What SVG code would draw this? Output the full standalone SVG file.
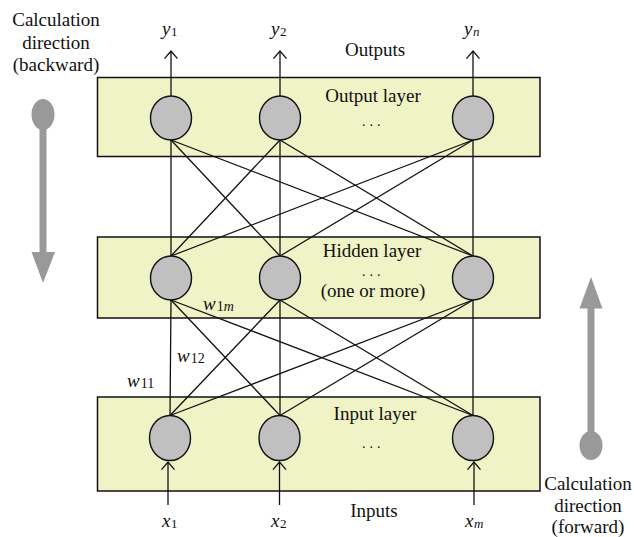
<svg xmlns="http://www.w3.org/2000/svg" width="634" height="537" viewBox="0 0 634 537">
<style>
text{font-family:"Liberation Serif","Times New Roman",serif;font-size:19px;fill:#111}
.c{text-anchor:middle}
.i{font-style:italic}
.sub{font-size:13px;font-style:normal}
.subi{font-size:13px;font-style:italic}
.wsub{font-size:14px;font-style:normal}
.mi{font-style:italic}
.dots{font-size:14px;letter-spacing:4px}
.box{fill:#EFF3C6;stroke:#111;stroke-width:1.5}
.node{fill:#C0C0C0;stroke:#111;stroke-width:1.4}
.ln{stroke:#111;stroke-width:1.3;fill:none}
.spoon{fill:#999999}
</style>
<defs>
<marker id="open" markerUnits="userSpaceOnUse" markerWidth="12" markerHeight="16" refX="8.6" refY="7.5" orient="auto">
<path d="M1,1 L8.6,7.5 L1,14" fill="none" stroke="#111" stroke-width="1.3"/>
</marker>
</defs>

<g id="layer-output">
<rect class="box" x="97.5" y="77.5" width="442.5" height="79"/>
<text class="c" x="373" y="102">Output layer</text>
<text class="dots" x="362" y="126">...</text>
</g>
<g id="layer-hidden">
<rect class="box" x="97.5" y="237" width="442.5" height="81"/>
<text class="c" x="372" y="257">Hidden layer</text>
<text class="dots" x="362" y="276">...</text>
<text class="c" x="373" y="297">(one or more)</text>
</g>
<g id="layer-input">
<rect class="box" x="97.5" y="397" width="442.5" height="94"/>
<text class="c" x="375" y="420">Input layer</text>
<text class="dots" x="362" y="448">...</text>
</g>

<g id="connectors" class="ln">
<line x1="171" y1="140" x2="171" y2="256"/>
<line x1="171" y1="140" x2="280" y2="256"/>
<line x1="171" y1="140" x2="473" y2="256"/>
<line x1="280" y1="140" x2="171" y2="256"/>
<line x1="280" y1="140" x2="280" y2="256"/>
<line x1="280" y1="140" x2="473" y2="256"/>
<line x1="473" y1="140" x2="171" y2="256"/>
<line x1="473" y1="140" x2="280" y2="256"/>
<line x1="473" y1="140" x2="473" y2="256"/>
<line x1="171" y1="300" x2="170" y2="415.5"/>
<line x1="171" y1="300" x2="280" y2="415.5"/>
<line x1="171" y1="300" x2="473" y2="415.5"/>
<line x1="280" y1="300" x2="170" y2="415.5"/>
<line x1="280" y1="300" x2="280" y2="415.5"/>
<line x1="280" y1="300" x2="473" y2="415.5"/>
<line x1="473" y1="300" x2="170" y2="415.5"/>
<line x1="473" y1="300" x2="280" y2="415.5"/>
<line x1="473" y1="300" x2="473" y2="415.5"/>
<line x1="171" y1="96" x2="171" y2="51" marker-end="url(#open)"/>
<line x1="280" y1="96" x2="280" y2="51" marker-end="url(#open)"/>
<line x1="473" y1="96" x2="473" y2="51" marker-end="url(#open)"/>
<line x1="168" y1="505" x2="168" y2="462" marker-end="url(#open)"/>
<line x1="279.5" y1="505" x2="279.5" y2="462" marker-end="url(#open)"/>
<line x1="474" y1="505" x2="474" y2="462" marker-end="url(#open)"/>
</g>

<g id="out1"><ellipse class="node" cx="171" cy="118" rx="20.5" ry="22"/></g>
<g id="out2"><ellipse class="node" cx="280" cy="118" rx="20.5" ry="22"/></g>
<g id="outn"><ellipse class="node" cx="473" cy="118" rx="20.5" ry="22"/></g>
<g id="hid1"><ellipse class="node" cx="171" cy="278" rx="20.5" ry="22"/></g>
<g id="hid2"><ellipse class="node" cx="280" cy="278" rx="20.5" ry="22"/></g>
<g id="hid3"><ellipse class="node" cx="473" cy="278" rx="20.5" ry="22"/></g>
<g id="in1"><ellipse class="node" cx="170" cy="438" rx="20.5" ry="22.5"/></g>
<g id="in2"><ellipse class="node" cx="279.5" cy="438" rx="20.5" ry="22.5"/></g>
<g id="inm"><ellipse class="node" cx="473" cy="438" rx="20.5" ry="22.5"/></g>

<g id="labels">
<text x="162" y="35"><tspan class="i">y</tspan><tspan class="sub" dx="0.5" dy="1">1</tspan></text>
<text x="271" y="35"><tspan class="i">y</tspan><tspan class="sub" dx="0.5" dy="1">2</tspan></text>
<text x="464" y="35"><tspan class="i">y</tspan><tspan class="subi" dx="0.5" dy="1">n</tspan></text>
<text class="c" x="375" y="56">Outputs</text>
<text class="c" x="374" y="517">Inputs</text>
<text x="162" y="527"><tspan class="i">x</tspan><tspan class="sub" dx="0.5" dy="1">1</tspan></text>
<text x="271" y="527"><tspan class="i">x</tspan><tspan class="sub" dx="0.5" dy="1">2</tspan></text>
<text x="465" y="527"><tspan class="i">x</tspan><tspan class="subi" dx="0.5" dy="1">m</tspan></text>
<text x="203" y="310"><tspan class="i">w</tspan><tspan class="wsub" dx="1" dy="1">1<tspan class="mi">m</tspan></tspan></text>
<text x="177" y="362"><tspan class="i">w</tspan><tspan class="wsub" dx="1" dy="1">12</tspan></text>
<text x="127" y="387"><tspan class="i">w</tspan><tspan class="wsub" dx="1" dy="1">11</tspan></text>
</g>

<g id="dir-backward">
<text class="c" x="56" y="26">Calculation</text>
<text class="c" x="56" y="49">direction</text>
<text class="c" x="56" y="71">(backward)</text>
<ellipse class="spoon" cx="43" cy="114.5" rx="11.5" ry="15.5"/>
<rect class="spoon" x="39.5" y="114" width="7" height="139"/>
<polygon class="spoon" points="31.5,252 55,252 43,283"/>
</g>
<g id="dir-forward">
<text class="c" x="588" y="490">Calculation</text>
<text class="c" x="588" y="512">direction</text>
<text class="c" x="588" y="533">(forward)</text>
<ellipse class="spoon" cx="591" cy="445.5" rx="11.5" ry="14.5"/>
<rect class="spoon" x="587.5" y="307" width="7" height="139"/>
<polygon class="spoon" points="579.5,308.5 602.5,308.5 591,277"/>
</g>
</svg>
